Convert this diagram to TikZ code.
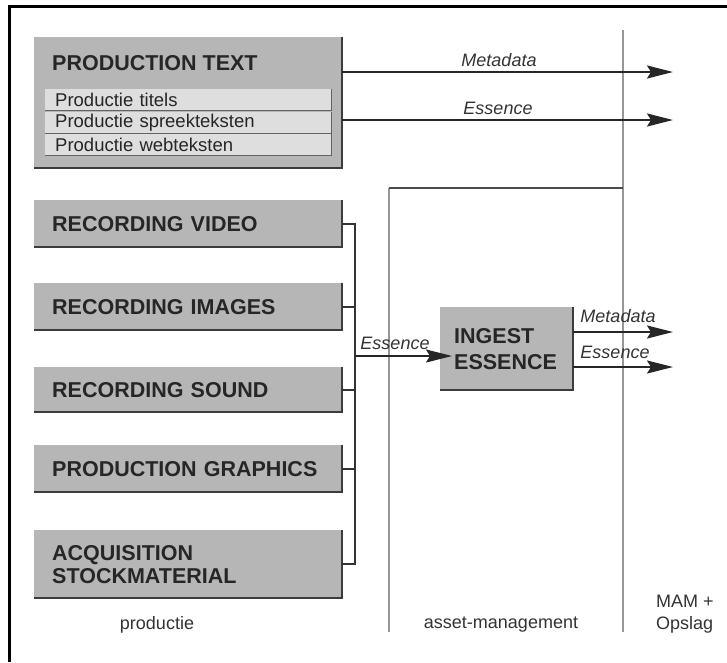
\documentclass[tikz,border=0pt]{standalone}
\usepackage{fontspec}
\setmainfont{Liberation Sans}
\usetikzlibrary{arrows.meta}
\definecolor{boxgray}{RGB}{182,182,182}
\definecolor{rowgray}{RGB}{222,222,222}
\definecolor{edgegray}{RGB}{60,60,60}
\definecolor{linegray}{RGB}{150,150,150}
\begin{document}
\begin{tikzpicture}[x=1pt,y=-1pt,
  box/.style={fill=boxgray, anchor=north west, inner xsep=18pt, inner ysep=0pt,
    minimum width=308pt, text width=272pt, align=left,
    font=\fontsize{21.5}{23}\selectfont\bfseries, text=black!85},
  title/.style={anchor=west, inner sep=0pt, font=\fontsize{21.5}{23}\selectfont\bfseries, text=black!85},
  rowbox/.style={fill=rowgray, anchor=north west, inner xsep=10pt, inner ysep=0pt,
    minimum width=286pt, text width=266pt, minimum height=21pt, align=left,
    font=\fontsize{18.5}{20}\selectfont, text=black!85},
  edge/.style={draw=edgegray, line width=2pt},
  rowedge/.style={draw=edgegray!80, line width=1.4pt},
  conn/.style={draw=black!80, line width=1.6pt},
  arr/.style={draw=black!85, line width=2pt, -{Stealth[length=26pt,width=13pt,inset=4pt]}},
  vline/.style={draw=linegray, line width=1.2pt},
  hline/.style={draw=black!70, line width=1.6pt},
  lab/.style={inner sep=0pt, font=\fontsize{18}{20}\selectfont\itshape, text=black!80},
  foot/.style={inner sep=0pt, font=\fontsize{18}{22}\selectfont, text=black!80, align=left}
]
\useasboundingbox (0,0) rectangle (727,662);
% frame
\coordinate (fa) at (9.5,662);
\coordinate (fb) at (9.5,6);
\coordinate (fc) at (727,6);
\draw[black, line width=3pt] (fa) -- (fb) -- (fc);

% vertical column separators
\coordinate (v1t) at (623,30);
\coordinate (v1b) at (623,632);
\coordinate (v2t) at (389,188);
\coordinate (v2b) at (389,632);
\draw[vline] (v1t) -- (v1b);
\draw[vline] (v2t) -- (v2b);
\draw[hline] (v2t) -- (v2t -| v1t);

% production text box
\node[box, minimum height=131pt] (pt) at (34,37) {};
\node[title] (ptt) at (52,63) {PRODUCTION TEXT};
\node[rowbox] (r1) at (45,89) {Productie titels};
\node[rowbox] (r2) at (45,112) {Productie spreekteksten};
\node[rowbox] (r3) at (45,134) {Productie webteksten};

% recording boxes
\node[box, minimum height=47pt] (rv) at (34,200) {RECORDING VIDEO};
\node[box, minimum height=47pt] (ri) at (34,283) {RECORDING IMAGES};
\node[box, minimum height=45pt] (rs) at (34,367) {RECORDING SOUND};
\node[box, minimum height=47pt] (pg) at (34,445) {PRODUCTION GRAPHICS};
\node[box, minimum height=68pt] (acq) at (34,530) {ACQUISITION\\STOCKMATERIAL};

% ingest box
\node[box, minimum width=133pt, text width=105pt, inner xsep=14pt, minimum height=83pt,
  font=\fontsize{21.5}{26}\selectfont\bfseries] (ing) at (440,307) {INGEST\\ESSENCE};

% shadow edges
\foreach \n in {pt,rv,ri,rs,pg,acq,ing}
  \draw[edge] (\n.north east) -- (\n.south east) -- (\n.south west);
\foreach \n in {r1,r2,r3}
  \draw[rowedge] (\n.north east) -- (\n.south east) -- (\n.south west);

% bus
\coordinate (busx) at (355,0);
\draw[conn] (rv.east) -- (rv.east -| busx) -- (acq.east -| busx) -- (acq.east);
\foreach \n in {ri,rs,pg}
  \draw[conn] (\n.east) -- (\n.east -| busx);
\coordinate (ein) at (355,356);
\coordinate (etip) at (452,356);
\draw[arr] (ein) -- (etip);
\node[lab] (lein) at (395,343) {Essence};

% top arrows
\coordinate (m1) at (673,72);
\coordinate (e1) at (673,120);
\draw[arr] (pt.east |- m1) -- (m1);
\draw[arr] (pt.east |- e1) -- (e1);
\node[lab] (lm1) at (499,60) {Metadata};
\node[lab] (le1) at (498,108) {Essence};

% ingest outputs
\coordinate (m2) at (673,332);
\coordinate (e2) at (673,367);
\draw[arr] (ing.east |- m2) -- (m2);
\draw[arr] (ing.east |- e2) -- (e2);
\node[lab] (lm2) at (618,316) {Metadata};
\node[lab] (le2) at (615,352) {Essence};

% footer labels
\node[foot] (f1) at (157,625) {productie};
\node[foot] (f2) at (501,625) {asset-management};
\node[foot, anchor=west] (f3) at (656,614) {MAM +\\Opslag};
\end{tikzpicture}
\end{document}
